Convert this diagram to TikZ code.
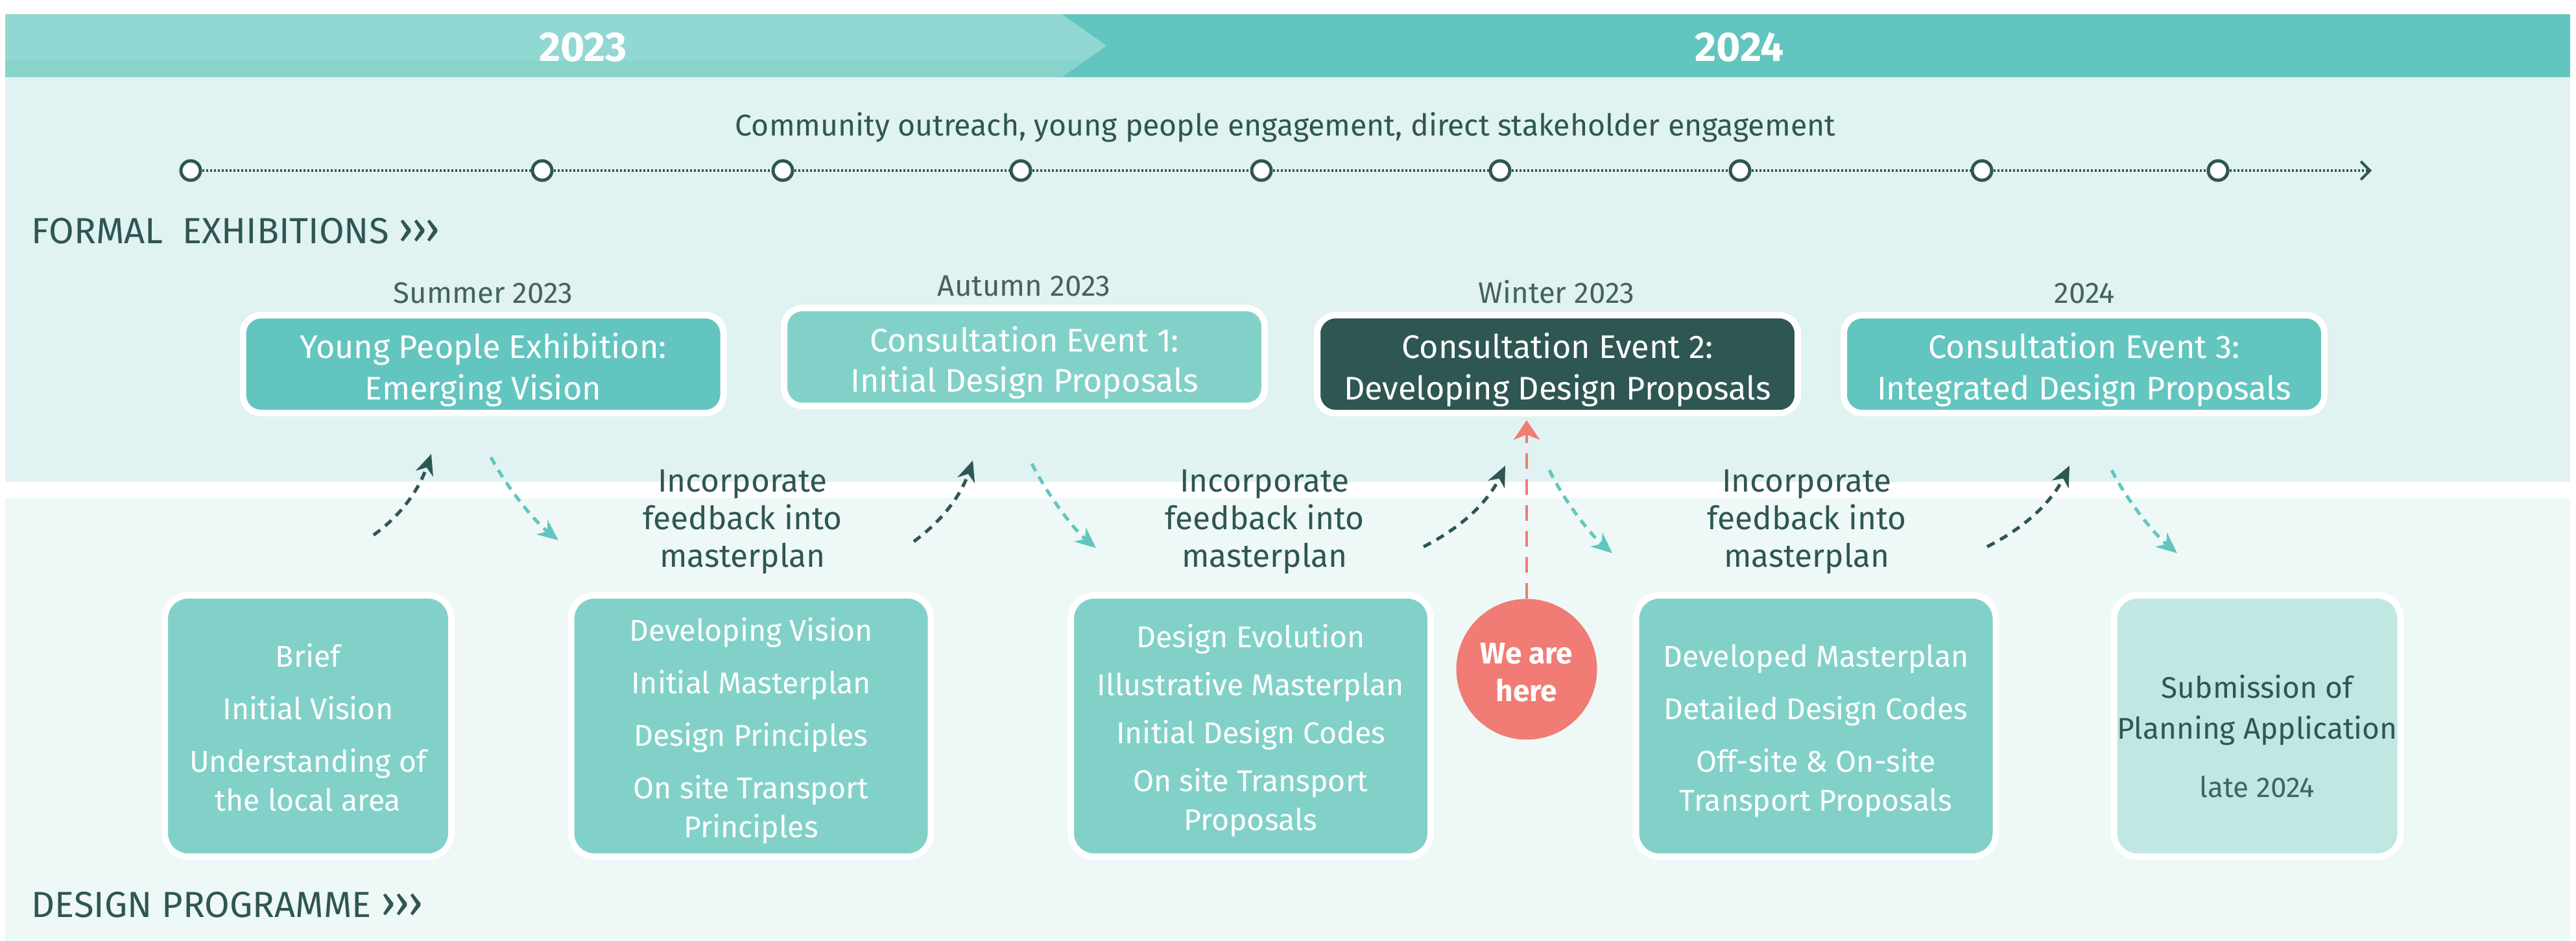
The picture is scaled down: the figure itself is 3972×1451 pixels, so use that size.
\documentclass[tikz,border=0pt]{standalone}
\usepackage{fontspec}
\setmainfont{Fira Sans}
\usetikzlibrary{arrows.meta}
\definecolor{dk}{HTML}{2E5652}
\definecolor{tmid}{HTML}{63C5BF}
\definecolor{tlt}{HTML}{82D1C9}
\definecolor{tpale}{HTML}{C0E8E3}
\definecolor{bgup}{HTML}{E0F2F1}
\definecolor{bglo}{HTML}{EEF8F6}
\definecolor{hdA}{HTML}{92D8D2}
\definecolor{hdB}{HTML}{87D4CD}
\definecolor{coral}{HTML}{F07C75}
\definecolor{lbl}{HTML}{45625F}
\newcommand{\topstrut}[1]{\rule{0pt}{#1}}
\newcommand{\botstrut}[1]{\rule[-#1]{0pt}{#1}}
\newcommand{\chev}{{\fontsize{17}{17}\selectfont ›\kern-0.6pt›\kern-0.6pt›}}
\tikzset{
  tdot/.style={circle, draw=dk, fill=white, line width=1.25pt, minimum size=7.5pt, inner sep=0pt},
  tline/.style={dk, line width=1pt, dash pattern=on 0.75pt off 0.75pt},
  evbox/.style={rounded corners=7pt, draw=white, line width=2.5pt, minimum width=185.25pt, minimum height=37.75pt, align=center, text=white, font=\fontsize{12.6}{16}\selectfont, inner sep=0pt},
  dpbox/.style={rounded corners=9pt, draw=white, line width=2.5pt, minimum height=100.75pt, align=center, text=white, font=\fontsize{11.6}{15}\selectfont, fill=tlt, inner sep=0pt},
  season/.style={text=lbl, font=\fontsize{11.4}{14}\selectfont, anchor=base, inner sep=0pt},
  inc/.style={text=dk, align=center, font=\fontsize{12.4}{14.6}\selectfont, anchor=base, inner sep=0pt},
  darr/.style={dk, line width=1.25pt, dash pattern=on 3.2pt off 2.5pt, -{Stealth[length=8pt,width=7pt,inset=2.5pt]}},
  larr/.style={tmid, line width=1.25pt, dash pattern=on 3.2pt off 2.5pt, -{Stealth[length=8pt,width=7pt,inset=2.5pt]}},
  rarr/.style={coral, line width=1.2pt, dash pattern=on 6pt off 4pt, -{Stealth[length=7.5pt,width=10pt,inset=2pt]}},
  sect/.style={text=dk, font=\fontsize{14}{16}\selectfont, anchor=base west, inner sep=0pt},
  year/.style={text=white, font=\bfseries\fontsize{16}{18}\selectfont, inner sep=0pt}
}
\begin{document}
\begin{tikzpicture}[x=0.25pt,y=-0.25pt]
\useasboundingbox (0,0) rectangle (3972,1451);
\fill[white] (0,0) rectangle (3972,1451);
% panels
\fill[bgup] (8,119) rectangle (3963,743);
\fill[bglo] (8,768) rectangle (3963,1451);
% header
\fill[tmid] (8,22) rectangle (3963,119);
\fill[hdA] (8,22) -- (1637,22) -- (1706,70.5) -- (1637,119) -- (8,119) -- cycle;
\fill[hdB] (8,94) -- (1673,94) -- (1637,119) -- (8,119) -- cycle;
\node[year] (y23) at (899,73) {2023};
\node[year] (y24) at (2682,73) {2024};
% timeline
\node[text=dk, font=\fontsize{11.6}{14}\selectfont, anchor=base, inner sep=0pt] (outreach) at (1982,210) {Community outreach, young people engagement, direct stakeholder engagement};
\node[tdot] (d1) at (294,263) {};
\node[tdot] (d2) at (836,263) {};
\node[tdot] (d3) at (1207,263) {};
\node[tdot] (d4) at (1574,263) {};
\node[tdot] (d5) at (1945,263) {};
\node[tdot] (d6) at (2313,263) {};
\node[tdot] (d7) at (2683,263) {};
\node[tdot] (d8) at (3056,263) {};
\node[tdot] (d9) at (3420,263) {};
\coordinate (tend) at (3657,263);
\draw[tline] (d1) -- (d2);
\draw[tline] (d2) -- (d3);
\draw[tline] (d3) -- (d4);
\draw[tline] (d4) -- (d5);
\draw[tline] (d5) -- (d6);
\draw[tline] (d6) -- (d7);
\draw[tline] (d7) -- (d8);
\draw[tline] (d8) -- (d9);
\draw[tline, -{Straight Barb[length=3.5pt,width=7pt,line width=1pt]}] (d9) -- (tend);
% section labels
\node[sect] (formal) at (48,376) {FORMAL\ \ EXHIBITIONS \chev};
\node[sect] (design) at (48,1415) {DESIGN PROGRAMME \chev};
% seasons
\node[season] (s1) at (745,468) {Summer 2023};
\node[season] (s2) at (1579,457) {Autumn 2023};
\node[season] (s3) at (2400,468) {Winter 2023};
\node[season] (s4) at (3214,468) {2024};
% event boxes
\node[evbox, fill=tmid] (e0) at (745,561.5) {\topstrut{16pt}Young People Exhibition:\\Emerging Vision\botstrut{4.25pt}};
\node[evbox, fill=tlt, font=\fontsize{12.6}{15.5}\selectfont] (e1) at (1579.5,550.5) {\topstrut{16pt}Consultation Event 1:\\Initial Design Proposals\botstrut{4.25pt}};
\node[evbox, fill=dk] (e2) at (2401.5,561.5) {\topstrut{16pt}Consultation Event 2:\\Developing Design Proposals\botstrut{4.25pt}};
\node[evbox, fill=tmid] (e3) at (3213.5,561.5) {\topstrut{16pt}Consultation Event 3:\\Integrated Design Proposals\botstrut{4.25pt}};
% design programme boxes
\node[dpbox, minimum width=110.5pt] (bA) at (475,1119.5) {\topstrut{14pt}Brief\\[5.25pt]Initial Vision\\[5.25pt]Understanding of\\the local area\botstrut{3.75pt}};
\node[dpbox, minimum width=138.75pt] (bB) at (1158,1119.5) {\topstrut{14pt}Developing Vision\\[5.25pt]Initial Masterplan\\[5.25pt]Design Principles\\[5.25pt]On site Transport\\Principles\botstrut{3.75pt}};
\node[dpbox, minimum width=138.75pt] (bC) at (1928.5,1119.5) {\topstrut{14pt}Design Evolution\\[3.5pt]Illustrative Masterplan\\[3.5pt]Initial Design Codes\\[3.5pt]On site Transport\\Proposals\botstrut{3.75pt}};
\node[dpbox, minimum width=138.75pt] (bD) at (2800,1119.5) {\topstrut{14pt}Developed Masterplan\\[5.25pt]Detailed Design Codes\\[5.25pt]Off-site \& On-site\\Transport Proposals\botstrut{3.75pt}};
\node[dpbox, minimum width=110.5pt, fill=tpale, text=dk, font=\fontsize{11.5}{15.75}\selectfont] (bE) at (3480.5,1119.5) {\topstrut{20pt}Submission of\\Planning Application\\[6.75pt]{\color{lbl}\fontsize{11}{14}\selectfont late 2024}\botstrut{3pt}};
% feedback texts
\node[inc] (f1) at (1145,875) {Incorporate\\feedback into\\masterplan};
\node[inc] (f2) at (1950,875) {Incorporate\\feedback into\\masterplan};
\node[inc] (f3) at (2786,875) {Incorporate\\feedback into\\masterplan};
% curved arrows
\coordinate (a1s) at (576,825); \coordinate (a1e) at (665,700);
\coordinate (b1s) at (757,705); \coordinate (b1e) at (861,833);
\coordinate (a2s) at (1409,835); \coordinate (a2e) at (1500,710);
\coordinate (b2s) at (1591,715); \coordinate (b2e) at (1690,845);
\coordinate (a3s) at (2195,843); \coordinate (a3e) at (2321,718);
\coordinate (b3s) at (2389,725); \coordinate (b3e) at (2486,853);
\coordinate (a4s) at (3064,843); \coordinate (a4e) at (3191,718);
\coordinate (b4s) at (3256,725); \coordinate (b4e) at (3357,853);
\draw[darr] (a1s) .. controls (621,793) and (647,752) .. (a1e);
\draw[larr] (b1s) .. controls (780,749) and (822,802) .. (b1e);
\draw[darr] (a2s) .. controls (1454,802) and (1482,763) .. (a2e);
\draw[larr] (b2s) .. controls (1613,759) and (1653,814) .. (b2e);
\draw[darr] (a3s) .. controls (2258,811) and (2296,771) .. (a3e);
\draw[larr] (b3s) .. controls (2410,769) and (2450,822) .. (b3e);
\draw[darr] (a4s) .. controls (3127,811) and (3165,771) .. (a4e);
\draw[larr] (b4s) .. controls (3278,769) and (3320,822) .. (b4e);
% we are here
\node[circle, fill=coral, minimum size=54.25pt, inner sep=0pt, text=white, align=center, font=\bfseries\fontsize{11.5}{14.5}\selectfont] (here) at (2354,1032) {\topstrut{13.5pt}We are\\here\botstrut{3pt}};
\draw[rarr, shorten >=1.5pt] (here.north) -- (here.north |- e2.south);
\end{tikzpicture}
\end{document}
